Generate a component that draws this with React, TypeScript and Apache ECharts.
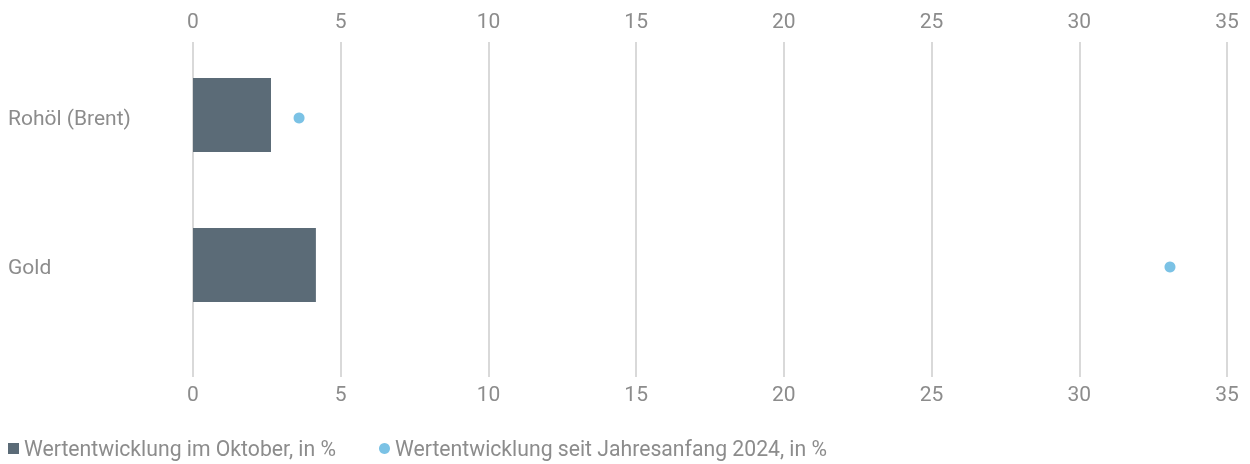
import React, { useEffect, useRef } from "react";
import * as echarts from "echarts";

const categories = ["Rohöl (Brent)", "Gold"];
const oktoberValues = [2.64, 4.16];
const ytdValues = [3.59, 33.07];
const seriesNames = ["Wertentwicklung im Oktober, in %", "Wertentwicklung seit Jahresanfang 2024, in %"];
const axisMin = 0;
const axisMax = 35;
const axisInterval = 5;

const textColor = "#8c8c8c";
const fontFamily = "Roboto, 'Noto Sans', sans-serif";

export default function App() {
  const ref = useRef<HTMLDivElement>(null);
  useEffect(() => {
    if (!ref.current) return;
    const chart = echarts.init(ref.current, null, { renderer: "svg" });
    const valueAxisBase = {
      type: "value" as const,
      min: axisMin,
      max: axisMax,
      interval: axisInterval,
      axisLine: { show: false },
      axisTick: { show: false },
    };
    const hiddenCategory = (gridIndex: number) => ({
      type: "category" as const,
      gridIndex,
      data: categories,
      inverse: true,
      show: false,
    });
    chart.setOption({
      animation: false,
      textStyle: { fontFamily },
      grid: [
        { left: 193, right: 23, top: 42, height: 335 },
        { left: 193, right: 23, top: 43.5, height: 298 },
        { left: 193, right: 23, top: 40, height: 300 },
      ],
      xAxis: [
        {
          ...valueAxisBase,
          gridIndex: 0,
          position: "top",
          axisLabel: { color: textColor, fontSize: 21, fontFamily, margin: 11 },
          splitLine: { show: true, lineStyle: { color: "#d9d9d9", width: 2 } },
        },
        {
          ...valueAxisBase,
          gridIndex: 0,
          position: "bottom",
          axisLabel: { color: textColor, fontSize: 21, fontFamily, margin: 6 },
          splitLine: { show: false },
        },
        { ...valueAxisBase, gridIndex: 1, show: false, splitLine: { show: false } },
        { ...valueAxisBase, gridIndex: 2, show: false, splitLine: { show: false } },
      ],
      yAxis: [
        { type: "category", gridIndex: 0, show: false, data: ["a"] },
        {
          type: "category",
          gridIndex: 1,
          data: categories,
          inverse: true,
          axisLine: { show: false },
          axisTick: { show: false },
          axisLabel: {
            color: textColor,
            fontSize: 21,
            fontFamily,
            align: "left",
            margin: 185,
          },
        },
        hiddenCategory(2),
      ],
      legend: {
        left: 3,
        top: 433,
        itemWidth: 11,
        itemHeight: 11,
        itemGap: 43,
        textStyle: { color: textColor, fontSize: 21.2, fontFamily },
        data: [
          { name: seriesNames[0], icon: "rect" },
          { name: seriesNames[1], icon: "circle" },
        ],
      },
      series: [
        {
          name: seriesNames[0],
          type: "bar",
          xAxisIndex: 3,
          yAxisIndex: 2,
          data: oktoberValues,
          barWidth: 74,
          itemStyle: { color: "#5b6b77" },
        },
        {
          name: seriesNames[1],
          type: "scatter",
          xAxisIndex: 2,
          yAxisIndex: 1,
          data: ytdValues,
          symbol: "circle",
          symbolSize: 11,
          itemStyle: { color: "#5ab3df" },
        },
      ],
    });
    return () => chart.dispose();
  }, []);
  return (
    <div
      ref={ref}
      style={{ position: "fixed", left: 0, top: 0, width: 1250, height: 464 }}
    />
  );
}
